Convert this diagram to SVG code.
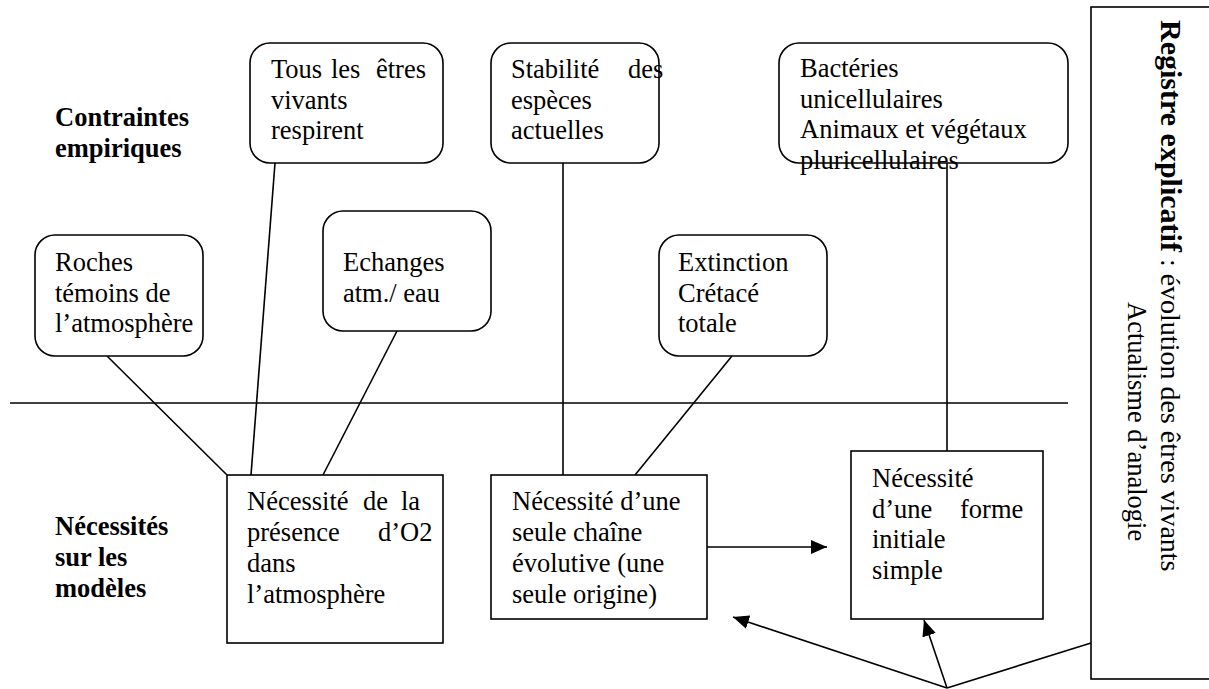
<svg xmlns="http://www.w3.org/2000/svg" width="1209" height="689" viewBox="0 0 1209 689">
<style>
.t{font-family:"Liberation Serif","Times New Roman",serif;font-size:26.5px;fill:#000}
.b{font-weight:bold}
.box{fill:#fff;stroke:#000;stroke-width:1.6}
.ln{fill:none;stroke:#000;stroke-width:1.6}
</style>
<defs>
<marker id="ah" viewBox="0 0 16 14" refX="16" refY="7" markerWidth="16" markerHeight="14" orient="auto" markerUnits="userSpaceOnUse">
<path d="M0,0 L16,7 L0,14 z" fill="#000"/>
</marker>
</defs>
<rect width="1209" height="689" fill="#fff"/>

<g id="connectors">
<line class="ln" x1="10" y1="403" x2="1068" y2="403"/>
<line class="ln" x1="107" y1="356" x2="227" y2="475"/>
<line class="ln" x1="275" y1="163" x2="251" y2="475"/>
<line class="ln" x1="397" y1="331" x2="323" y2="475"/>
<line class="ln" x1="563" y1="163" x2="563" y2="475"/>
<line class="ln" x1="732" y1="356" x2="635" y2="475"/>
<line class="ln" x1="947" y1="163" x2="947" y2="451"/>
<line class="ln" x1="707" y1="547" x2="827" y2="547" marker-end="url(#ah)"/>
<line class="ln" x1="947" y1="688" x2="1091" y2="643"/>
<line class="ln" x1="947" y1="688" x2="924" y2="620" marker-end="url(#ah)"/>
<line class="ln" x1="947" y1="688" x2="733" y2="617" marker-end="url(#ah)"/>
</g>

<g id="label-contraintes">
<text class="t b" x="55" y="126">Contraintes</text>
<text class="t b" x="55" y="157">empiriques</text>
</g>
<g id="label-necessites">
<text class="t b" x="55" y="535">Nécessités</text>
<text class="t b" x="55" y="566">sur les</text>
<text class="t b" x="55" y="597">modèles</text>
</g>

<g id="n-tous">
<rect class="box" x="250" y="43" width="193" height="120" rx="20"/>
<text class="t" x="271" y="78">Tous</text>
<text class="t" x="331" y="78">les</text>
<text class="t" x="376" y="78">êtres</text>
<text class="t" x="271" y="108.5">vivants</text>
<text class="t" x="271" y="139">respirent</text>
</g>

<g id="n-stabilite">
<rect class="box" x="491" y="43" width="168" height="120" rx="20"/>
<text class="t" x="511" y="78">Stabilité</text>
<text class="t" x="628" y="78">des</text>
<text class="t" x="511" y="108.5">espèces</text>
<text class="t" x="511" y="139">actuelles</text>
</g>

<g id="n-bacteries">
<rect class="box" x="779" y="43" width="289" height="120" rx="20"/>
<text class="t" x="800" y="77">Bactéries</text>
<text class="t" x="800" y="107.5">unicellulaires</text>
<text class="t" x="800" y="138">Animaux et végétaux</text>
<text class="t" x="800" y="168.5">pluricellulaires</text>
</g>

<g id="n-roches">
<rect class="box" x="35" y="235" width="168" height="121" rx="20"/>
<text class="t" x="55" y="271">Roches</text>
<text class="t" x="55" y="302">témoins de</text>
<text class="t" x="55" y="332">l’atmosphère</text>
</g>

<g id="n-echanges">
<rect class="box" x="323" y="211" width="168" height="120" rx="20"/>
<text class="t" x="343" y="271">Echanges</text>
<text class="t" x="343" y="302">atm./ eau</text>
</g>

<g id="n-extinction">
<rect class="box" x="659" y="235" width="168" height="121" rx="20"/>
<text class="t" x="678" y="271">Extinction</text>
<text class="t" x="678" y="302">Crétacé</text>
<text class="t" x="678" y="332">totale</text>
</g>

<g id="n-o2">
<rect class="box" x="227" y="475" width="216" height="168"/>
<text class="t" x="247" y="510">Nécessité</text>
<text class="t" x="363" y="510">de</text>
<text class="t" x="401" y="510">la</text>
<text class="t" x="247" y="541">présence</text>
<text class="t" x="378" y="541">d’O2</text>
<text class="t" x="247" y="572">dans</text>
<text class="t" x="247" y="603">l’atmosphère</text>
</g>

<g id="n-chaine">
<rect class="box" x="491" y="475" width="216" height="144"/>
<text class="t" x="512" y="510">Nécessité d’une</text>
<text class="t" x="512" y="541">seule chaîne</text>
<text class="t" x="512" y="572">évolutive (une</text>
<text class="t" x="512" y="603">seule origine)</text>
</g>

<g id="n-forme">
<rect class="box" x="851" y="451" width="192" height="168"/>
<text class="t" x="872" y="487">Nécessité</text>
<text class="t" x="872" y="517.5">d’une</text>
<text class="t" x="960" y="517.5">forme</text>
<text class="t" x="872" y="548">initiale</text>
<text class="t" x="872" y="578.5">simple</text>
</g>

<g id="n-registre">
<rect class="box" x="1091" y="7" width="130" height="672"/>
<g transform="translate(1161,0) rotate(90)">
<text class="t" x="20" y="0"><tspan class="b" font-size="30">Registre explicatif</tspan><tspan font-size="28"> : évolution des êtres vivants</tspan></text>
<text class="t" x="302" y="33">Actualisme d’analogie</text>
</g>
</g>
</svg>
